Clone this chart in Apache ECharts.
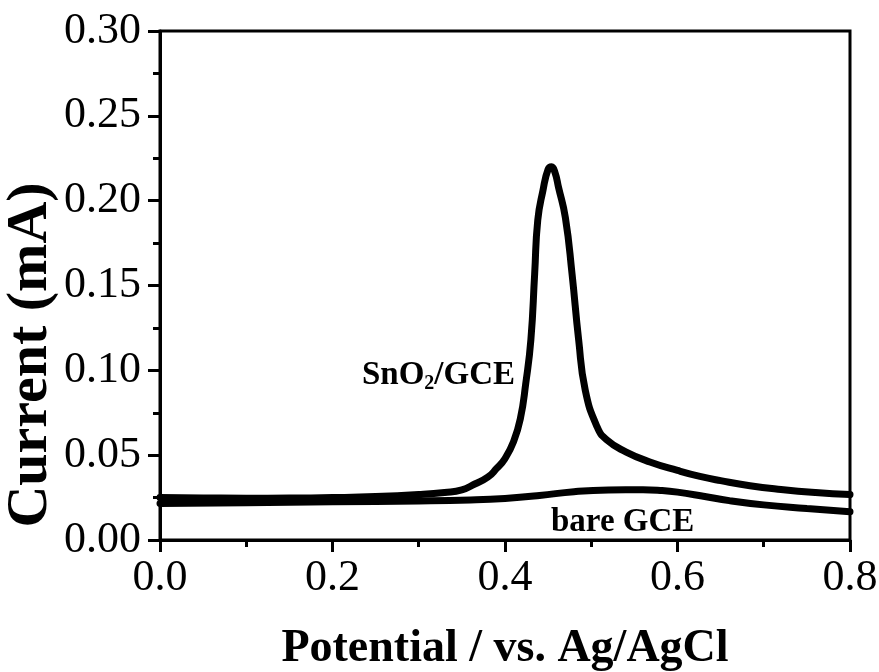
<!DOCTYPE html>
<html>
<head>
<meta charset="utf-8">
<script src="https://cdn.jsdelivr.net/npm/echarts@6/dist/echarts.min.js"></script>
<style>
  html, body { margin: 0; padding: 0; background: #fff; }
  #chart { width: 879px; height: 672px; }
</style>
</head>
<body>
<div id="chart"></div>
<script>
// Differential pulse voltammograms: SnO2-modified vs. bare glassy carbon electrode
const snPotential = [0.00, 0.05, 0.10, 0.15, 0.20, 0.25, 0.30, 0.33, 0.35, 0.365, 0.38, 0.39, 0.40, 0.41, 0.418, 0.424, 0.430, 0.4344, 0.438, 0.444, 0.450, 0.454, 0.458, 0.462, 0.470, 0.4777, 0.4854, 0.493, 0.5067, 0.518, 0.54, 0.568, 0.60, 0.626, 0.65, 0.684, 0.72, 0.76, 0.80];
const snCurrent   = [0.0250, 0.0248, 0.0246, 0.0247, 0.0250, 0.0256, 0.0268, 0.0280, 0.0295, 0.0330, 0.0370, 0.0420, 0.0480, 0.0580, 0.0720, 0.0920, 0.118, 0.157, 0.1886, 0.206, 0.2185, 0.2200, 0.2165, 0.208, 0.190, 0.157, 0.118, 0.0884, 0.0668, 0.0590, 0.0520, 0.0460, 0.0410, 0.0375, 0.0350, 0.0320, 0.0298, 0.0280, 0.0268];

const barePotential = [0.00, 0.10, 0.20, 0.30, 0.36, 0.40, 0.44, 0.48, 0.52, 0.56, 0.58, 0.60, 0.63, 0.66, 0.70, 0.75, 0.80];
const bareCurrent   = [0.0215, 0.0220, 0.0225, 0.0230, 0.0236, 0.0245, 0.0262, 0.0285, 0.0295, 0.0296, 0.0292, 0.0282, 0.0258, 0.0232, 0.0207, 0.0186, 0.0166];

const xTicks = [0.0, 0.2, 0.4, 0.6, 0.8];
const yTicks = [0.00, 0.05, 0.10, 0.15, 0.20, 0.25, 0.30];

const pairs = (xs, ys) => xs.map((x, i) => [x, ys[i]]);

const SERIF = '"Liberation Serif", "DejaVu Serif", serif';

const chart = echarts.init(document.getElementById('chart'), null, { renderer: 'canvas' });

const lineStyle = { color: '#000', width: 7, cap: 'round', join: 'round' };

chart.setOption({
  animation: false,
  backgroundColor: '#fff',
  grid: {
    left: 160, right: 29, top: 31, bottom: 132,
    outerBoundsMode: 'none', containLabel: false,
    show: true, borderColor: '#000', borderWidth: 3, backgroundColor: 'transparent'
  },
  xAxis: {
    type: 'value',
    min: xTicks[0], max: xTicks[xTicks.length - 1], interval: 0.2,
    name: 'Potential / vs. Ag/AgCl',
    nameLocation: 'middle', nameGap: 86,
    nameTextStyle: { fontFamily: SERIF, fontWeight: 'bold', fontSize: 46, color: '#000' },
    axisLine: { lineStyle: { color: '#000', width: 3 } },
    axisTick: { inside: false, length: 12, lineStyle: { color: '#000', width: 3 } },
    minorTick: { show: true, splitNumber: 2, length: 7, lineStyle: { color: '#000', width: 3 } },
    axisLabel: { fontFamily: SERIF, fontSize: 44, color: '#000', margin: 16,
                 formatter: v => v.toFixed(1) },
    splitLine: { show: false }
  },
  yAxis: {
    type: 'value',
    min: yTicks[0], max: yTicks[yTicks.length - 1], interval: 0.05,
    axisLine: { lineStyle: { color: '#000', width: 3 } },
    axisTick: { inside: false, length: 12, lineStyle: { color: '#000', width: 3 } },
    minorTick: { show: true, splitNumber: 2, length: 7, lineStyle: { color: '#000', width: 3 } },
    axisLabel: { fontFamily: SERIF, fontSize: 44, color: '#000', margin: 19,
                 formatter: v => v.toFixed(2) },
    splitLine: { show: false }
  },
  series: [
    {
      name: 'SnO2/GCE', type: 'line', data: pairs(snPotential, snCurrent),
      showSymbol: false, smooth: 0.5, lineStyle, z: 3
    },
    {
      name: 'bare GCE', type: 'line', data: pairs(barePotential, bareCurrent),
      showSymbol: false, smooth: 0.5, lineStyle, z: 2
    }
  ],
  graphic: [
    {
      // y-axis title, set below the axis midpoint
      type: 'text', x: 31, y: 355, rotation: Math.PI / 2,
      style: {
        text: 'Current (mA)', align: 'center', verticalAlign: 'middle',
        fontFamily: SERIF, fontWeight: 'bold', fontSize: 58, fill: '#000'
      }
    },
    {
      type: 'text', left: 362, top: 359,
      style: {
        text: '{b|SnO}{s|2}{b|/GCE}',
        rich: {
          b: { fontFamily: SERIF, fontWeight: 'bold', fontSize: 33, fill: '#000' },
          s: { fontFamily: SERIF, fontWeight: 'bold', fontSize: 20, fill: '#000', padding: [16, 0, 0, 0] }
        }
      }
    },
    {
      type: 'text', left: 551, top: 506,
      style: { text: 'bare GCE', fontFamily: SERIF, fontWeight: 'bold', fontSize: 33, fill: '#000' }
    }
  ]
});
</script>
</body>
</html>
